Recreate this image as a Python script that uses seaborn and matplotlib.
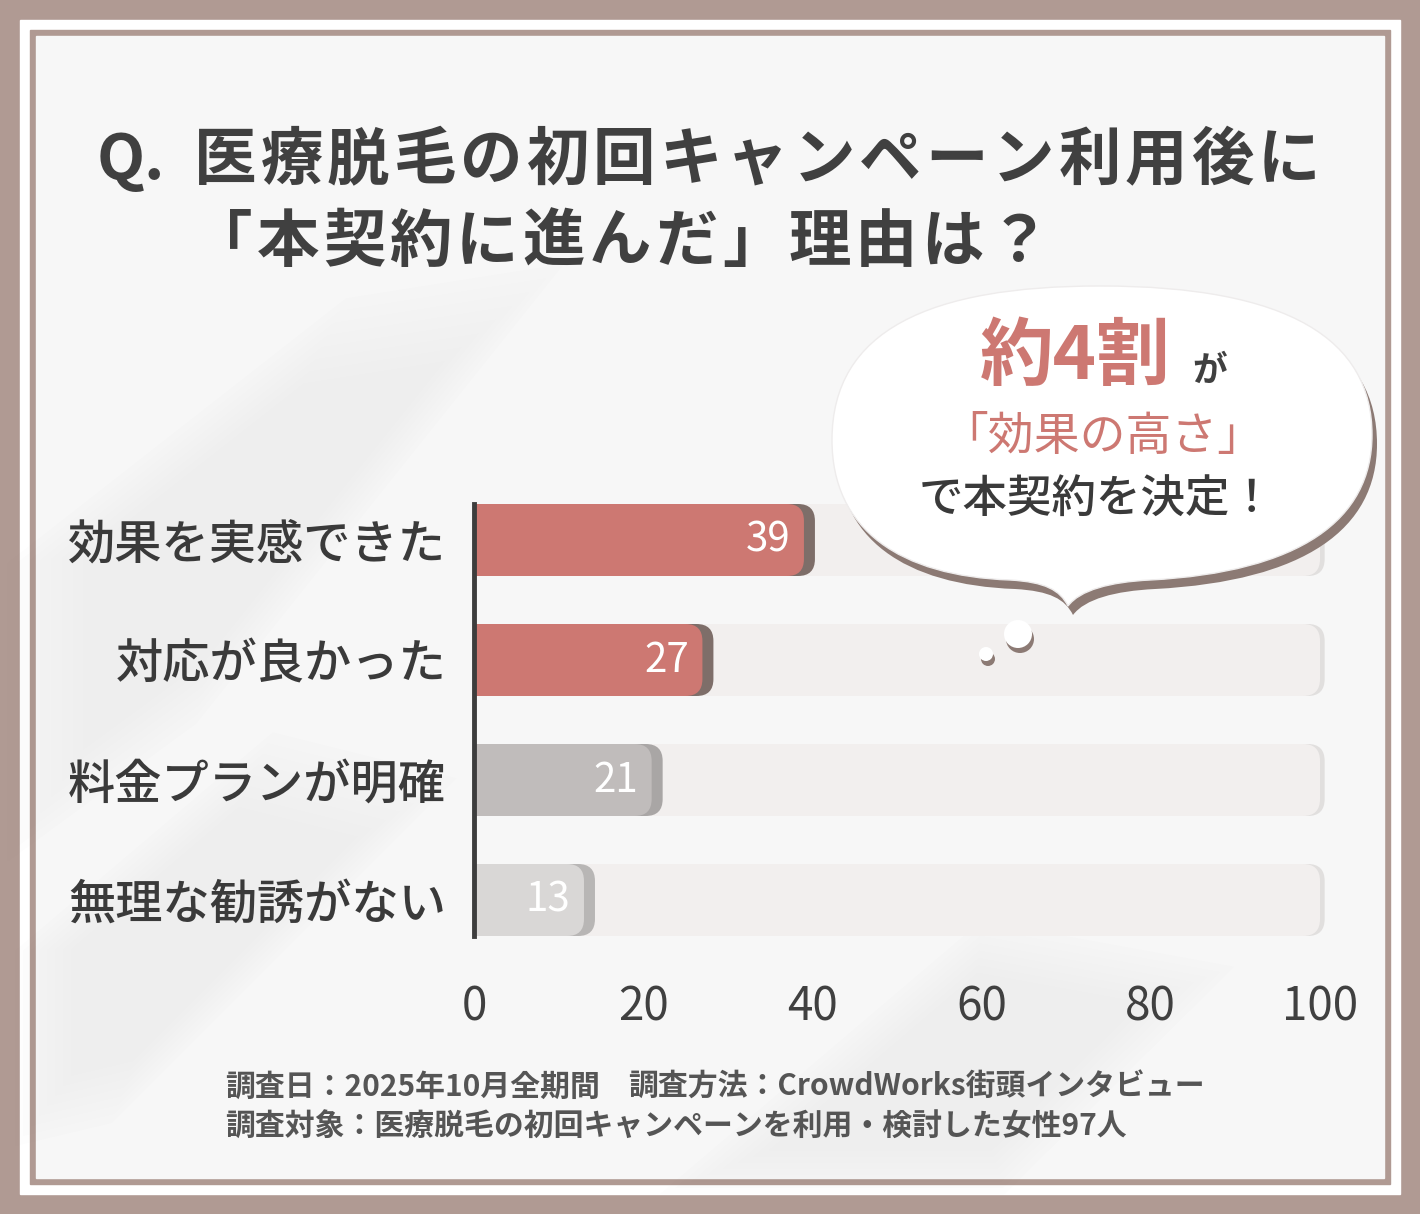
import matplotlib
matplotlib.use("Agg")
import numpy as np
import pandas as pd
import seaborn as sns
import matplotlib.pyplot as plt
from matplotlib.patches import FancyBboxPatch, Rectangle, PathPatch, Circle, Polygon
from matplotlib.path import Path
from matplotlib.transforms import Affine2D

# data
categories = ["効果を実感できた", "対応が良かった", "料金プランが明確", "無理な勧誘がない"]
values = [39, 27, 21, 13]
full_scale = [100, 100, 100, 100]
bar_colors = ["#cd7872", "#cd7872", "#c0bcbb", "#d9d7d6"]
shadow_colors = ["#7e6e69", "#7e6e69", "#a9a6a5", "#b8b6b5"]
xticks = [0, 20, 40, 60, 80, 100]

title_prefix = "Q."
title_lines = ["医療脱毛の初回キャンペーン利用後に", "「本契約に進んだ」理由は？"]
callout_big = "約4割"
callout_small = "が"
callout_mid = "「効果の高さ」"
callout_end = "で本契約を決定！"
footer_1a = "調査日：2025年10月全期間"
footer_1b = "調査方法：CrowdWorks街頭インタビュー"
footer_2 = "調査対象：医療脱毛の初回キャンペーンを利用・検討した女性97人"

W, H = 1420, 1214
RED = "#cd7872"
DARK = "#404040"
FRAME = "#b09a93"

sns.set_theme(style="white")
plt.rcParams["font.family"] = ["Noto Sans CJK JP", "DejaVu Sans"]

fig = plt.figure(figsize=(W / 100, H / 100), dpi=100, facecolor=FRAME)
px = Affine2D().scale(1 / W, -1 / H).translate(0, 1) + fig.transFigure

# frame + background
fig.patches.append(Rectangle((20, 20), 1380, 1174, transform=px, color="white", zorder=-5))
fig.patches.append(Rectangle((30, 30), 1360, 1154, transform=px, color=FRAME, zorder=-4))
fig.patches.append(Rectangle((36, 36), 1348, 1142, transform=px, color="#f7f7f7", zorder=-3))
# soft leaf shadows
shadow_shapes = [[(36, 560), (330, 330), (520, 300), (200, 700), (36, 820)],
                 [(36, 950), (260, 760), (420, 800), (120, 1100), (36, 1120)],
                 [(700, 1178), (980, 940), (1200, 980), (1000, 1178)]]
for pts in shadow_shapes:
    pts = np.array(pts, dtype=float)
    c = pts.mean(axis=0)
    for k in np.linspace(0.75, 1.15, 8):
        fig.patches.append(Polygon(c + (pts - c) * k, closed=True, transform=px,
                                   color="#777777", alpha=0.006, lw=0, zorder=-2))

# chart
x_max = 101
ax = fig.add_axes([474 / W, 1 - 936 / H, 846 * x_max / 100 / W, 432 / H])
ax.set_facecolor("none")

df = pd.DataFrame({"reason": categories, "value": values, "full": full_scale})
sns.barplot(data=df, x="full", y="reason", width=0.6, color="#f1eeed", ax=ax)
sns.barplot(data=df, x="value", y="reason", hue="reason", palette=bar_colors,
            width=0.6, legend=False, ax=ax)
ax.set_xlim(0, x_max)
ax.set_ylim(len(categories) - 0.7, -0.3)

aspect = (846 / 100) / 120.0
rounding = 2.0
patches = list(ax.patches)
tracks, bars = patches[:4], patches[4:]
for p in patches:
    p.remove()

for p in tracks:
    y, h, w = p.get_y(), p.get_height(), p.get_width()
    for extra, col, z in [(0.55, "#e1dfde", 1), (0, "#f2efee", 2)]:
        ax.add_patch(FancyBboxPatch((-4, y), w + 4 + extra, h,
                                    boxstyle=f"round,pad=0,rounding_size={rounding}",
                                    mutation_aspect=aspect, fc=col, ec="none", zorder=z))

for i, p in enumerate(bars):
    y, h, w = p.get_y(), p.get_height(), p.get_width()
    ax.add_patch(FancyBboxPatch((-4, y), w + 4 + 1.3, h,
                                boxstyle=f"round,pad=0,rounding_size={rounding}",
                                mutation_aspect=aspect, fc=shadow_colors[i], ec="none", zorder=3))
    ax.add_patch(FancyBboxPatch((-4, y), w + 4, h,
                                boxstyle=f"round,pad=0,rounding_size={rounding}",
                                mutation_aspect=aspect, fc=bar_colors[i], ec="none", zorder=4))
    ax.text(w - 1.6, y + h / 2, str(values[i]), ha="right", va="center",
            color="white", fontsize=29, zorder=5)

for s in ["top", "right", "bottom"]:
    ax.spines[s].set_visible(False)
ax.spines["left"].set_color("#3d3d3d")
ax.spines["left"].set_linewidth(3.5)
ax.spines["left"].set_zorder(6)
ax.set_xticks(xticks)
ax.set_xticklabels([str(t) for t in xticks])
ax.tick_params(axis="x", length=0, pad=34, labelsize=33, labelcolor=DARK)
ax.tick_params(axis="y", length=0, pad=20, labelsize=34, labelcolor="#3a3a3a")
for lab in ax.get_yticklabels():
    lab.set_fontweight("medium")
ax.set_xlabel("")
ax.set_ylabel("")
ax.grid(False)

# title (full-width characters placed on a fixed pitch for letter spacing)
pitch = 66.5
fig.text(97, 179, title_prefix, transform=px, ha="left", va="baseline",
         fontsize=45, weight="bold", color=DARK)
for line, x0, yb in [(title_lines[0], 194, 179), (title_lines[1], 190, 261)]:
    for k, ch in enumerate(line):
        fig.text(x0 + k * pitch, yb, ch, transform=px, ha="left", va="baseline",
                 fontsize=45, weight="bold", color=DARK)

# speech bubble
verts = [(832, 440),
         (832, 330), (930, 286), (1100, 286),
         (1290, 286), (1372, 340), (1372, 435),
         (1372, 520), (1300, 572), (1150, 580),
         (1110, 582), (1080, 590), (1068, 606),
         (1060, 590), (1045, 582), (1010, 580),
         (900, 576), (832, 530), (832, 440),
         (832, 440)]
codes = [Path.MOVETO] + [Path.CURVE4] * 18 + [Path.CLOSEPOLY]
bubble = Path(verts, codes)
shadow_tf = Affine2D().translate(5, 9) + px
fig.patches.append(PathPatch(bubble, transform=shadow_tf, fc="#8c7a74", ec="none", zorder=10))
fig.patches.append(PathPatch(bubble, transform=px, fc="white", ec="#eeecec", lw=1, zorder=11))
for (cx, cy, r) in [(1018, 634, 14), (986, 654, 7)]:
    fig.patches.append(Circle((cx + 2, cy + 5), r, transform=px, fc="#8c7a74", ec="none", zorder=10))
    fig.patches.append(Circle((cx, cy), r, transform=px, fc="white", ec="none", zorder=11))

fig.text(1075, 358, callout_big, transform=px, ha="center", va="center",
         fontsize=53, weight="bold", color=RED, zorder=12)
fig.text(1210, 370, callout_small, transform=px, ha="center", va="center",
         fontsize=25, weight="bold", color=DARK, zorder=12)
fig.text(1103, 437, callout_mid, transform=px, ha="center", va="center",
         fontsize=33, color=RED, zorder=12)
fig.text(1097, 500, callout_end, transform=px, ha="center", va="center",
         fontsize=32, weight="medium", color="#3a3a3a", zorder=12)

# footer
fig.text(225, 1087, footer_1a, transform=px, ha="left", va="center",
         fontsize=21.5, weight="bold", color="#555555")
fig.text(628, 1087, footer_1b, transform=px, ha="left", va="center",
         fontsize=21.5, weight="bold", color="#555555")
fig.text(225, 1127, footer_2, transform=px, ha="left", va="center",
         fontsize=21.5, weight="bold", color="#555555")

fig.savefig("out.png", dpi=100, facecolor=FRAME)
